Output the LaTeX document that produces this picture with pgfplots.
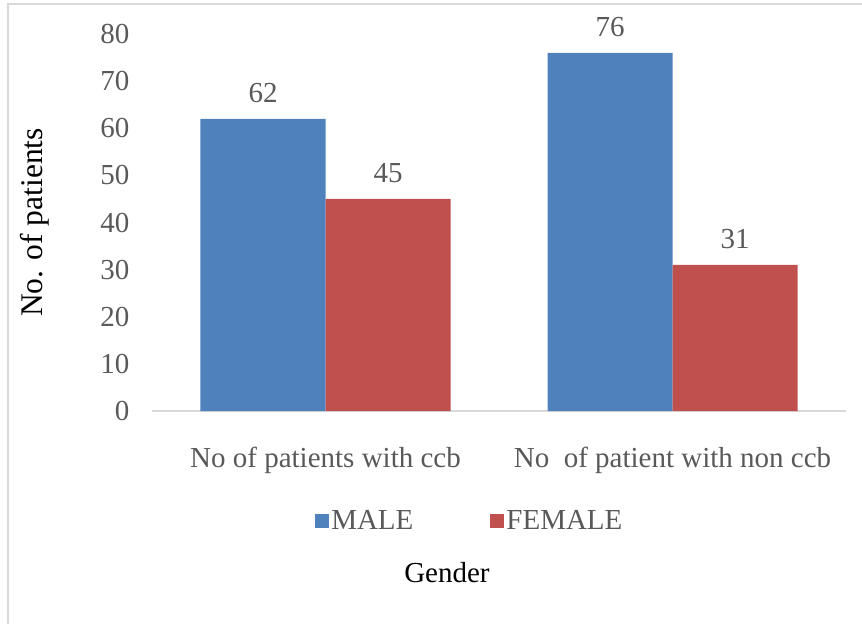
\documentclass[border=0pt]{standalone}
\usepackage{pgfplots}
\pgfplotsset{compat=1.18}
\usepackage{fontspec}
\setmainfont{Liberation Serif}
\definecolor{maleblue}{HTML}{4F81BD}
\definecolor{femalered}{HTML}{C0504D}
\definecolor{txtgray}{HTML}{595959}
\definecolor{framegray}{HTML}{D9D9D9}
\begin{document}
\begin{tikzpicture}
\useasboundingbox (0pt,0pt) rectangle (862pt,624pt);
% chart frame (left and top edges)
\draw[framegray, line width=1.5pt] (8pt,0pt) -- (8pt,620pt) -- (862pt,620pt);
\begin{axis}[
  at={(152pt,213pt)}, anchor=south west,
  scale only axis,
  width=694pt, height=377pt,
  ybar=0pt, bar width=125pt,
  xmin=-0.5, xmax=1.5,
  ymin=0, ymax=80,
  xtick={0,1},
  xticklabels={No of patients with ccb, No\ \ of patient with non ccb},
  ytick={0,10,...,80},
  axis lines*=left,
  y axis line style={draw=none},
  x axis line style={draw=framegray, line width=1.2pt, -},
  major tick length=0pt,
  tick style={draw=none},
  /pgf/number format/assume math mode=true,
  tick label style={font=\fontsize{29}{34}\selectfont, text=txtgray},
  yticklabel style={xshift=-19pt},
  xticklabel style={yshift=-33pt},
  ylabel={No. of patients},
  ylabel style={at={(axis description cs:0,0.5)}, anchor=center,
    yshift=117pt, font=\fontsize{31.5}{36}\selectfont, text=black},
  nodes near coords,
  every node near coord/.append style={font=\fontsize{29}{34}\selectfont, text=txtgray, yshift=13pt},
  legend columns=2,
  legend style={at={(axis description cs:0.458,-0.292)}, anchor=center, draw=none,
    font=\fontsize{29}{34}\selectfont, text=txtgray,
    /tikz/every even column/.append style={column sep=75pt}},
  legend image code/.code={\fill[#1] (-4pt,-7pt) rectangle (10pt,7pt);},
  clip=false,
]
\addplot[fill=maleblue, draw=none] coordinates {(0,62) (1,76)};
\addplot[fill=femalered, draw=none] coordinates {(0,45) (1,31)};
\legend{MALE, FEMALE}
\node[font=\fontsize{29}{34}\selectfont, text=black] at (axis description cs:0.425,-0.4297) {Gender};
\end{axis}
\end{tikzpicture}
\end{document}
